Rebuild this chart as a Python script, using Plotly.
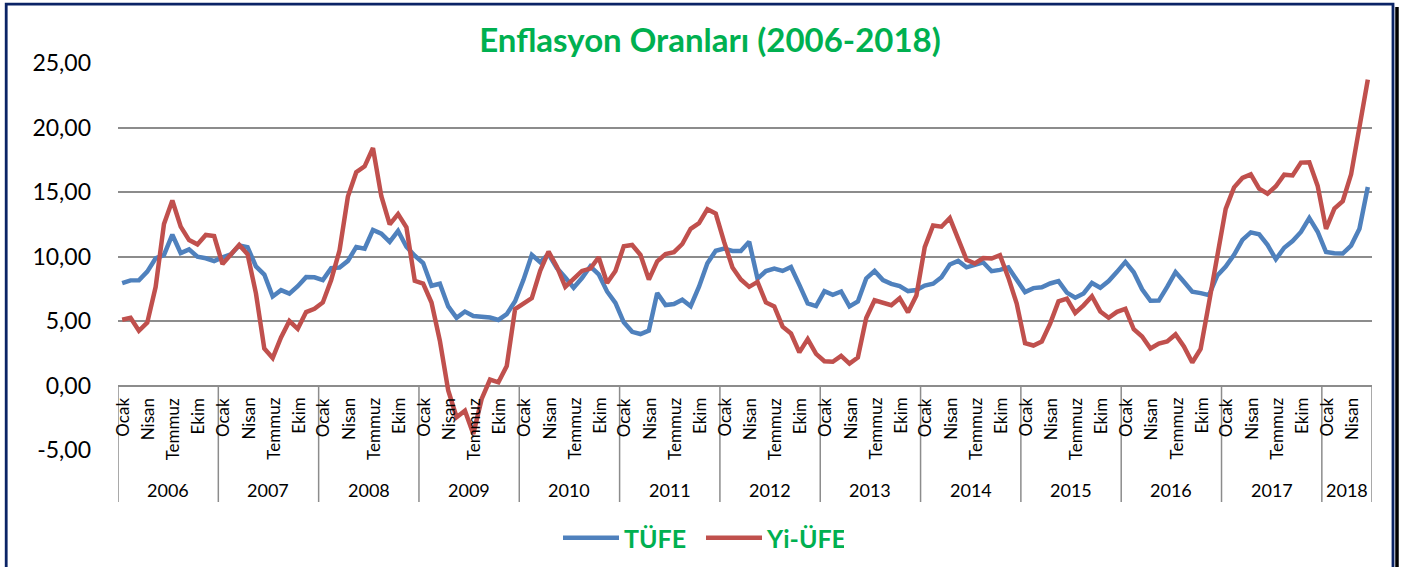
import plotly.graph_objects as go

# ---------------- data ----------------
years = [2006, 2007, 2008, 2009, 2010, 2011, 2012, 2013, 2014, 2015, 2016, 2017, 2018]
month_labels = ["Ocak", "Nisan", "Temmuz", "Ekim"]
month_label_pos = [0, 3, 6, 9]
months_per_year = [12, 12, 12, 12, 12, 12, 12, 12, 12, 12, 12, 12, 6]

tufe = [
    7.93, 8.15, 8.16, 8.83, 9.86, 10.12, 11.69, 10.26, 10.55, 9.98, 9.86, 9.65,      # 2006
    9.93, 10.16, 10.86, 10.72, 9.23, 8.60, 6.90, 7.39, 7.12, 7.70, 8.40, 8.39,       # 2007
    8.17, 9.10, 9.15, 9.66, 10.74, 10.61, 12.06, 11.77, 11.13, 11.99, 10.76, 10.06,  # 2008
    9.50, 7.73, 7.89, 6.13, 5.24, 5.73, 5.39, 5.33, 5.27, 5.08, 5.53, 6.53,          # 2009
    8.19, 10.13, 9.56, 10.19, 9.10, 8.37, 7.58, 8.33, 9.24, 8.62, 7.29, 6.40,        # 2010
    4.90, 4.16, 3.99, 4.26, 7.17, 6.24, 6.31, 6.65, 6.15, 7.66, 9.48, 10.45,         # 2011
    10.61, 10.43, 10.43, 11.14, 8.28, 8.87, 9.07, 8.88, 9.19, 7.80, 6.37, 6.16,      # 2012
    7.31, 7.03, 7.29, 6.13, 6.51, 8.30, 8.88, 8.17, 7.88, 7.71, 7.32, 7.40,          # 2013
    7.75, 7.89, 8.39, 9.38, 9.66, 9.16, 9.32, 9.54, 8.86, 8.96, 9.15, 8.17,          # 2014
    7.24, 7.55, 7.61, 7.91, 8.09, 7.20, 6.81, 7.14, 7.95, 7.58, 8.10, 8.81,          # 2015
    9.58, 8.78, 7.46, 6.57, 6.58, 7.64, 8.79, 8.05, 7.28, 7.16, 7.00, 8.53,          # 2016
    9.22, 10.13, 11.29, 11.87, 11.72, 10.90, 9.79, 10.68, 11.20, 11.90, 12.98, 11.92, # 2017
    10.35, 10.26, 10.23, 10.85, 12.15, 15.39,                                        # 2018
]

yi_ufe = [
    5.10, 5.24, 4.24, 4.87, 7.63, 12.52, 14.34, 12.32, 11.27, 10.94, 11.67, 11.58,   # 2006
    9.41, 10.18, 10.90, 10.17, 7.14, 2.86, 2.13, 3.72, 5.00, 4.39, 5.69, 5.94,       # 2007
    6.44, 8.18, 10.47, 14.64, 16.53, 16.99, 18.41, 14.67, 12.49, 13.29, 12.26, 8.11, # 2008
    7.90, 6.43, 3.47, -0.38, -2.46, -1.95, -3.75, -1.04, 0.46, 0.25, 1.51, 5.93,     # 2009
    6.36, 6.78, 8.89, 10.38, 9.21, 7.64, 8.27, 8.88, 9.06, 9.94, 7.95, 8.87,         # 2010
    10.80, 10.89, 10.12, 8.21, 9.63, 10.19, 10.34, 10.97, 12.15, 12.58, 13.67, 13.33, # 2011
    11.13, 9.15, 8.22, 7.65, 8.03, 6.44, 6.13, 4.56, 4.03, 2.57, 3.60, 2.45,         # 2012
    1.88, 1.84, 2.30, 1.70, 2.17, 5.23, 6.61, 6.38, 6.23, 6.77, 5.67, 6.97,          # 2013
    10.72, 12.40, 12.31, 12.98, 11.28, 9.75, 9.46, 9.88, 9.84, 10.10, 8.36, 6.36,    # 2014
    3.28, 3.10, 3.41, 4.80, 6.52, 6.73, 5.62, 6.21, 6.92, 5.74, 5.25, 5.71,          # 2015
    5.94, 4.36, 3.80, 2.87, 3.25, 3.41, 3.96, 3.03, 1.78, 2.84, 6.41, 9.94,          # 2016
    13.69, 15.36, 16.09, 16.37, 15.26, 14.87, 15.45, 16.34, 16.28, 17.28, 17.30, 15.47, # 2017
    12.14, 13.71, 14.28, 16.37, 20.16, 23.71,                                        # 2018
]

y_ticks = [-5, 0, 5, 10, 15, 20, 25]
y_tick_text = ["-5,00", "0,00", "5,00", "10,00", "15,00", "20,00", "25,00"]

# ---------------- layout constants ----------------
W, H = 1415, 567
L, R, T, B = 118, 43, 63, 117
PW, PH = W - L - R, H - T - B
YMIN, YMAX = -5, 25
GRID = "#8C8C8C"
NAVY = "#0B2466"
GREEN = "#00B050"
FONT = "Lato"


def px_x(px):
    return (px - L) / PW


def px_y(py):
    return (H - B - py) / PH


n = len(tufe)
x_idx = list(range(n))

fig = go.Figure()
fig.add_trace(go.Scatter(x=x_idx, y=tufe, mode="lines", name="TÜFE",
                         line=dict(color="#4F81BD", width=4.5)))
fig.add_trace(go.Scatter(x=x_idx, y=yi_ufe, mode="lines", name="Yi-ÜFE",
                         line=dict(color="#C0504D", width=4.5)))

annotations = []
shapes = []

# month and year labels of the two-level category axis
start = 0
for yr, cnt in zip(years, months_per_year):
    for lab, pos in zip(month_labels, month_label_pos):
        if pos < cnt:
            annotations.append(dict(
                x=start + pos, xref="x", y=px_y(396), yref="paper",
                text=lab, textangle=-90, showarrow=False,
                xanchor="center", yanchor="top",
                font=dict(family=FONT, size=17, color="#000000")))
    annotations.append(dict(
        x=start + (cnt - 1) / 2, xref="x", y=px_y(490), yref="paper",
        text=str(yr), showarrow=False, xanchor="center", yanchor="middle",
        font=dict(family=FONT, size=18, color="#000000")))
    shapes.append(dict(type="line", xref="x", yref="paper",
                       x0=start - 0.5, x1=start - 0.5,
                       y0=(0 - YMIN) / (YMAX - YMIN), y1=px_y(502),
                       line=dict(color=GRID, width=1.5)))
    start += cnt
shapes.append(dict(type="line", xref="x", yref="paper",
                   x0=start - 0.5, x1=start - 0.5,
                   y0=(0 - YMIN) / (YMAX - YMIN), y1=px_y(502),
                   line=dict(color=GRID, width=1.5)))

# outer frame of the chart
shapes.append(dict(type="line", xref="paper", yref="paper",
                   x0=px_x(1397), x1=px_x(1397), y0=px_y(7), y1=px_y(620),
                   line=dict(color="#000000", width=3.5)))
shapes.append(dict(type="rect", xref="paper", yref="paper",
                   x0=px_x(6.2), x1=px_x(1393), y0=px_y(4.2), y1=px_y(620),
                   line=dict(color=NAVY, width=2.8), fillcolor="rgba(0,0,0,0)"))

fig.update_layout(
    width=W, height=H,
    margin=dict(l=L, r=R, t=T, b=B, autoexpand=False),
    paper_bgcolor="white", plot_bgcolor="white",
    title=dict(text="<b>Enflasyon Oranları (2006-2018)</b>",
               x=710 / W, xref="container", xanchor="center",
               y=1 - 40 / H, yref="container", yanchor="middle",
               font=dict(family=FONT, size=33, color=GREEN)),
    xaxis=dict(range=[-0.5, n - 0.5], showticklabels=False, showgrid=False,
               zeroline=False, showline=False, ticks=""),
    yaxis=dict(range=[YMIN, YMAX], tickvals=y_ticks, ticktext=y_tick_text,
               showgrid=True, gridcolor=GRID, gridwidth=1.5,
               zeroline=True, zerolinecolor=GRID, zerolinewidth=1.5,
               showline=False, ticks="", ticklabelstandoff=26,
               tickfont=dict(family=FONT, size=23, color="#000000")),
    showlegend=True,
    legend=dict(orientation="h", x=px_x(701), xanchor="center",
                y=px_y(538), yanchor="middle", itemwidth=56, entrywidth=72,
                font=dict(family=FONT, size=25, color=GREEN, weight="bold"),
                bgcolor="rgba(0,0,0,0)"),
    annotations=annotations,
    shapes=shapes,
)

fig.write_html(
    "out.html",
    config={"displayModeBar": False},
    post_script="document.body.style.margin='0';document.body.style.overflow='hidden';",
)
